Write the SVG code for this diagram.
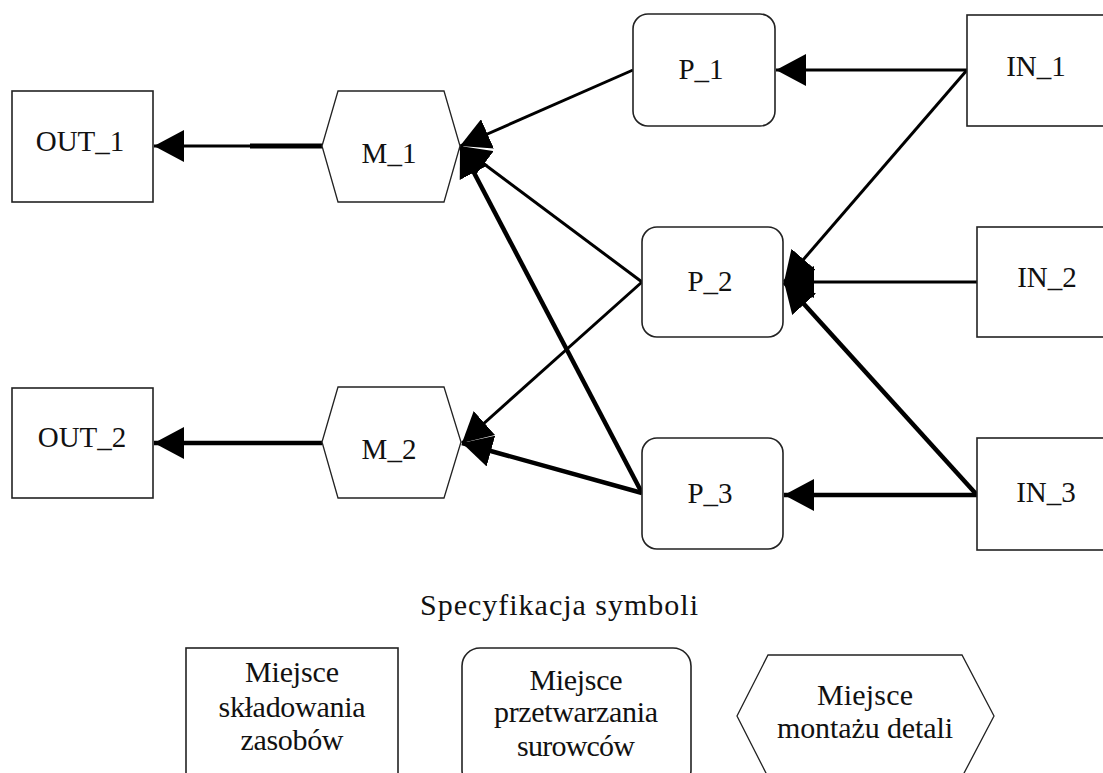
<svg xmlns="http://www.w3.org/2000/svg" width="1103" height="773" viewBox="0 0 1103 773">
  <defs>
    <style>
      .box { fill: #fff; stroke: #222; stroke-width: 1.6; }
      .hex { fill: #fff; stroke: #222; stroke-width: 1.3; }
      .lbl { font-family: "Liberation Serif", "Times New Roman", serif; font-size: 29px; fill: #111; text-anchor: middle; }
      .leg { font-size: 30px; }
      .edge { fill: none; stroke: #000; stroke-width: 3; marker-end: url(#arrow); }
      .edge.heavy { stroke-width: 4.5; }
    </style>
    <marker id="arrow" markerUnits="userSpaceOnUse" viewBox="0 0 30 32" refX="30" refY="16" markerWidth="30" markerHeight="32" orient="auto">
      <path d="M0,0 L30,16 L0,32 Z" fill="#000"/>
    </marker>
  </defs>

  <rect width="1103" height="773" fill="#fff"/>

  <!-- connectors -->
  <g id="connectors">
    <path class="edge" d="M967,70 L776,70"/>
    <path class="edge" d="M967,70 L784,282"/>
    <path class="edge" d="M977,282 L784,282"/>
    <path class="edge heavy" d="M977,495 L784,282"/>
    <path class="edge heavy" d="M977,495 L784,495"/>
    <path class="edge" d="M633,70 L460,146"/>
    <path class="edge" d="M642,282 L460,146"/>
    <path class="edge heavy" d="M642,493 L460,146"/>
    <path class="edge" d="M642,282 L462,443"/>
    <path class="edge heavy" d="M642,493 L462,443"/>
    <path d="M322,146 L250,146" stroke="#000" stroke-width="5" fill="none"/>
    <path class="edge" d="M252,146 L154,146"/>
    <path class="edge heavy" d="M322,443 L154,443"/>
  </g>

  <!-- storage places -->
  <g id="IN_1">
    <rect class="box" x="967" y="15" width="150" height="111"/>
    <text class="lbl" x="1036" y="76">IN_1</text>
  </g>
  <g id="IN_2">
    <rect class="box" x="977" y="227" width="140" height="110"/>
    <text class="lbl" x="1047" y="287">IN_2</text>
  </g>
  <g id="IN_3">
    <rect class="box" x="977" y="438" width="140" height="112"/>
    <text class="lbl" x="1046" y="502">IN_3</text>
  </g>
  <g id="OUT_1">
    <rect class="box" x="12" y="91" width="141" height="111"/>
    <text class="lbl" x="80" y="151">OUT_1</text>
  </g>
  <g id="OUT_2">
    <rect class="box" x="12" y="388" width="141" height="110"/>
    <text class="lbl" x="82" y="447">OUT_2</text>
  </g>

  <!-- processing places -->
  <g id="P_1">
    <rect class="box" x="633" y="14" width="142" height="112" rx="15"/>
    <text class="lbl" x="701" y="79">P_1</text>
  </g>
  <g id="P_2">
    <rect class="box" x="642" y="227" width="141" height="110" rx="15"/>
    <text class="lbl" x="710" y="291">P_2</text>
  </g>
  <g id="P_3">
    <rect class="box" x="642" y="438" width="141" height="111" rx="15"/>
    <text class="lbl" x="710" y="503">P_3</text>
  </g>

  <!-- assembly places -->
  <g id="M_1">
    <polygon class="hex" points="338,91 444,91 460,146 444,202 338,202 322,146"/>
    <text class="lbl" x="389" y="163">M_1</text>
  </g>
  <g id="M_2">
    <polygon class="hex" points="338,387 444,387 461,442 444,498 338,498 322,442"/>
    <text class="lbl" x="389" y="459">M_2</text>
  </g>

  <!-- legend -->
  <g id="legend-title">
    <text class="lbl leg" x="559" y="615" textLength="278" lengthAdjust="spacing">Specyfikacja symboli</text>
  </g>
  <g id="legend-storage">
    <rect class="box" x="186" y="648" width="212" height="140"/>
    <text class="lbl leg" x="292" y="682" textLength="94" lengthAdjust="spacing">Miejsce</text>
    <text class="lbl leg" x="292" y="717" textLength="147" lengthAdjust="spacing">składowania</text>
    <text class="lbl leg" x="292" y="750" textLength="103" lengthAdjust="spacing">zasobów</text>
  </g>
  <g id="legend-processing">
    <rect class="box" x="462" y="648" width="229" height="140" rx="18"/>
    <text class="lbl leg" x="576" y="690" textLength="93" lengthAdjust="spacing">Miejsce</text>
    <text class="lbl leg" x="576" y="722" textLength="164" lengthAdjust="spacing">przetwarzania</text>
    <text class="lbl leg" x="576" y="756" textLength="118" lengthAdjust="spacing">surowców</text>
  </g>
  <g id="legend-assembly">
    <polygon class="hex" points="768,655 962,655 994,716 962,777 768,777 737,716"/>
    <text class="lbl leg" x="865" y="705" textLength="96" lengthAdjust="spacing">Miejsce</text>
    <text class="lbl leg" x="865" y="738" textLength="176" lengthAdjust="spacing">montażu detali</text>
  </g>
</svg>
